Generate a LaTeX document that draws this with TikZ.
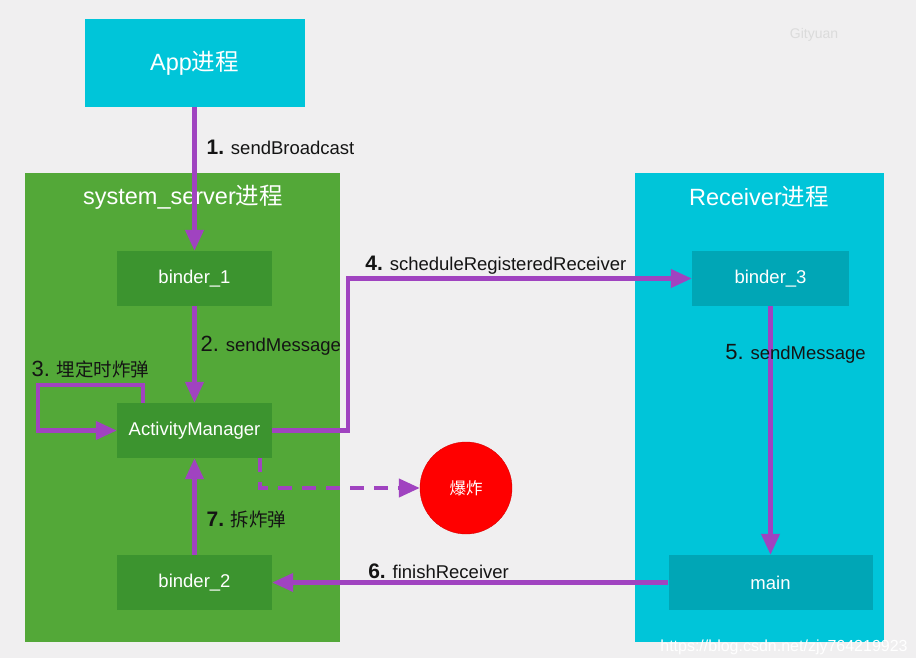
\documentclass[tikz,border=0pt]{standalone}
\usepackage{fontspec}
\setmainfont{Liberation Sans}
\newfontfamily\cjk{Noto Sans CJK SC}
\usetikzlibrary{positioning, arrows.meta}
\newcommand{\zh}[1]{{\cjk #1}}
\newcommand{\bnum}[1]{{\fontsize{21}{22}\selectfont\bfseries #1}}
\newcommand{\pnum}[1]{{\fontsize{22}{22}\selectfont #1}}
\definecolor{bgGray}{HTML}{F0EFF0}
\definecolor{procCyan}{HTML}{00C5D9}
\definecolor{deepCyan}{HTML}{00A6B6}
\definecolor{procGreen}{HTML}{53A838}
\definecolor{deepGreen}{HTML}{3C942F}
\definecolor{callPurple}{HTML}{A043C0}
\definecolor{bombRed}{HTML}{FF0000}

\begin{document}
\begin{tikzpicture}[x=1pt, y=-1pt, node distance=152pt, on grid,
  >={Triangle[length=21pt,width=18pt]},
  proc/.style={fill=#1, inner sep=0pt},
  proctitle/.style={text=white, font=\fontsize{23.5}{24}\selectfont},
  part/.style={fill=#1, text=white, inner sep=0pt, minimum width=155pt,
    minimum height=55pt, font=\fontsize{18.5}{20}\selectfont},
  part/.default=deepGreen,
  lbl/.style={text=black!92, inner sep=2pt, font=\fontsize{18.5}{20}\selectfont},
  call/.style={->, draw=callPurple, line width=4.2pt}]
  \useasboundingbox (0,0) rectangle (916,658);
  \fill[bgGray] (0,0) rectangle (916,658);

  % process boxes
  \node[proc=procGreen, minimum width=315pt, minimum height=469pt] (sysbox) at (182.5,407.5) {};
  \node[proc=procCyan, minimum width=249pt, minimum height=469pt] (recvbox) at (759.5,407.5) {};
  \node[proctitle] (systitle) at (183,197) {system\_server\zh{进程}};
  \node[proctitle] (recvtitle) at (759,197) {Receiver\zh{进程}};

  \node[part] (binder1) at (194.5,278.5) {binder\_1};
  \node[part] (am) [below=of binder1] {ActivityManager};
  \node[part] (binder2) [below=of am] {binder\_2};
  \node[part=deepCyan, minimum width=157pt] (binder3) [right=576pt of binder1] {binder\_3};
  \node[part=deepCyan, minimum width=204pt] (main) [below=304pt of binder3] {main};
  \node[proc=procCyan, minimum width=220pt, minimum height=88pt, text=white,
    font=\fontsize{23.5}{24}\selectfont] (app) [above=215.5pt of binder1] {App\zh{进程}};
  \node[circle, fill=bombRed, draw=red!85!black, line width=0.4pt, minimum size=92pt,
    text=white, font=\fontsize{16.5}{17}\selectfont] (bomb) at (466,488) {\zh{爆炸}};

  \coordinate (loop) at (38,385);
  \coordinate (turn) at (348,278.5);

  \draw[call] (app) -- node[lbl, right, pos=0.28, xshift=8pt] {\bnum{1.} sendBroadcast} (binder1);
  \draw[call] (binder1) -- node[lbl, right, pos=0.41, xshift=2pt] {\pnum{2.} sendMessage} (am);
  \draw[call] ([xshift=-51.5pt]am.north) |- node[lbl, pos=0.75, above=3pt] {\pnum{3.} \zh{埋定时炸弹}} (loop) |- (am.west);
  \draw[call] (am.east) -| (turn) -- node[lbl, above, pos=0.43] {\bnum{4.} scheduleRegisteredReceiver} (binder3.west);
  \draw[call] (binder3) -- node[lbl, pos=0.19, xshift=25pt] {\pnum{5.} sendMessage} (main);
  \draw[call] (main) -- node[lbl, above, pos=0.58] {\bnum{6.} finishReceiver} (binder2);
  \draw[call] (binder2) -- node[lbl, right, pos=0.37, xshift=8pt] {\bnum{7.} \zh{拆炸弹}} (am);
  \draw[call, dash pattern=on 14pt off 10pt] ([xshift=65.5pt]am.south) |- (bomb);

  % watermarks
  \node[text=black!14, font=\fontsize{14}{14}\selectfont] (mark) at (814,35) {Gityuan};
  \node[text=white, font=\fontsize{16}{16}\selectfont] (url) at (784,647) {https://blog.csdn.net/zjy764219923};
\end{tikzpicture}
\end{document}
